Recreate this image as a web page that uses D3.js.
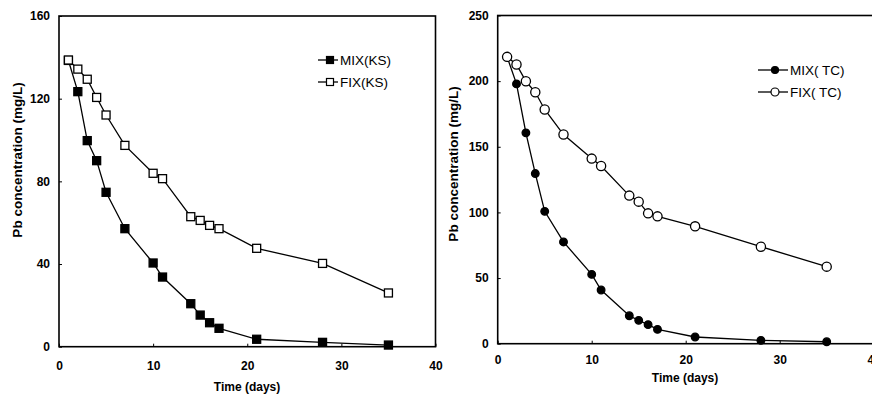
<!DOCTYPE html>
<html>
<head>
<meta charset="utf-8">
<script src="https://cdn.jsdelivr.net/npm/d3@7"></script>
<style>
  body { margin: 0; background: #fff; }
  svg text { font-family: 'Liberation Sans', Arial, sans-serif; fill: #000; }
  .tick text { font-size: 12px; font-weight: bold; }
  .title { font-size: 12px; font-weight: bold; }
  .ytitle { font-size: 13.5px; font-weight: bold; }
  .legend text { font-size: 13.5px; }
</style>
</head>
<body>
<svg width="872" height="394"></svg>
<script>
/* global d3:true */

// sampling days (shared by all series)
const days = [1, 2, 3, 4, 5, 7, 10, 11, 14, 15, 16, 17, 21, 28, 35]

// KS panel
const mixKS = [138.5, 123.4, 99.7, 90, 74.7, 57.1, 40.5, 33.7, 20.8, 15.3, 11.6, 8.9, 3.6, 2.1, 0.8]
const fixKS = [138.7, 134.3, 129.4, 120.6, 112.1, 97.4, 83.9, 81.3, 62.9, 61.1, 58.7, 57.1, 47.6, 40.3, 26]
const ticksKS = [0, 40, 80, 120, 160]

// TC panel
const mixTC = [218.5, 197.9, 160.6, 129.6, 100.8, 77.5, 52.8, 40.9, 21.3, 17.8, 14.5, 10.9, 5.1, 2.5, 1.5]
const fixTC = [218.5, 212.7, 199.9, 191.5, 178.4, 159.3, 141, 135.4, 112.8, 108.2, 99.3, 97, 89.4, 73.9, 58.7]
const ticksTC = [0, 50, 100, 150, 200, 250]

const timeTicks = [0, 10, 20, 30, 40]

const svg = d3.select('svg')

const drawPanel = (opt) => {
  const { left, top, width, height, yMax, yTicks, mix, fix, mixName, fixName, marker, legend, xLabelY } = opt
  const x = d3.scaleLinear().domain([0, 40]).range([0, width])
  const y = d3.scaleLinear().domain([0, yMax]).range([height, 0])

  const g = svg.append('g')
    .attr('transform', 'translate(' + left + ',' + top + ')')

  g.append('g')
    .attr('transform', 'translate(0,' + height + ')')
    .call(d3.axisBottom(x).tickValues(timeTicks).tickSizeInner(-3).tickSizeOuter(0).tickPadding(xLabelY))
    .call((a) => a.select('.domain').remove())

  g.append('g')
    .call(d3.axisLeft(y).tickValues(yTicks).tickSizeInner(-3).tickSizeOuter(0).tickPadding(9))
    .call((a) => a.select('.domain').remove())

  g.append('rect')
    .attr('width', width)
    .attr('height', height)
    .attr('fill', 'none')
    .attr('stroke', '#000')
    .attr('stroke-width', 1.6)

  const line = d3.line()
    .x((d, i) => x(days[i]))
    .y((d) => y(d))

  const drawMarks = (values, filled) => {
    g.append('path')
      .datum(values)
      .attr('d', line)
      .attr('fill', 'none')
      .attr('stroke', '#000')
      .attr('stroke-width', 1.3)
    const pts = g.selectAll(null)
      .data(values)
      .enter()
    if (marker === 'square') {
      pts.append('rect')
        .attr('x', (d, i) => x(days[i]) - 4)
        .attr('y', (d) => y(d) - 4)
        .attr('width', 8)
        .attr('height', 8)
        .attr('fill', filled ? '#000' : '#fff')
        .attr('stroke', '#000')
        .attr('stroke-width', 1.3)
    } else {
      pts.append('circle')
        .attr('cx', (d, i) => x(days[i]))
        .attr('cy', (d) => y(d))
        .attr('r', filled ? 3.8 : 4.6)
        .attr('fill', filled ? '#000' : '#fff')
        .attr('stroke', '#000')
        .attr('stroke-width', 1.3)
    }
  }

  drawMarks(mix, true)
  drawMarks(fix, false)

  // legend
  const lg = svg.append('g').attr('class', 'legend')
  const items = [[mixName, true], [fixName, false]]
  items.forEach((item, i) => {
    const ly = legend.y + i * 22
    lg.append('line')
      .attr('x1', legend.x).attr('x2', legend.x + legend.len)
      .attr('y1', ly).attr('y2', ly)
      .attr('stroke', '#000').attr('stroke-width', 1.3)
    const mx = legend.x + legend.len / 2 + 2
    if (marker === 'square') {
      lg.append('rect')
        .attr('x', mx - 3.5).attr('y', ly - 3.5)
        .attr('width', 7).attr('height', 7)
        .attr('fill', item[1] ? '#000' : '#fff')
        .attr('stroke', '#000').attr('stroke-width', 1.2)
    } else {
      lg.append('circle')
        .attr('cx', mx).attr('cy', ly)
        .attr('r', item[1] ? 3.5 : 4)
        .attr('fill', item[1] ? '#000' : '#fff')
        .attr('stroke', '#000').attr('stroke-width', 1.2)
    }
    lg.append('text')
      .attr('x', legend.x + legend.len + 2)
      .attr('y', ly + 5)
      .text(item[0])
  })

  // axis titles
  svg.append('text')
    .attr('class', 'ytitle')
    .attr('transform', 'translate(' + opt.yTitle.x + ',' + opt.yTitle.y + ') rotate(-90)')
    .attr('text-anchor', 'middle')
    .text('Pb concentration (mg/L)')

  svg.append('text')
    .attr('class', 'title')
    .attr('x', opt.xTitle.x)
    .attr('y', opt.xTitle.y)
    .attr('text-anchor', 'middle')
    .text('Time (days)')
}

drawPanel({
  left: 59, top: 16, width: 376.5, height: 330.7,
  yMax: 160, yTicks: ticksKS,
  mix: mixKS, fix: fixKS,
  mixName: 'MIX(KS)', fixName: 'FIX(KS)',
  marker: 'square',
  legend: { x: 318, y: 60, len: 20 },
  xLabelY: 15,
  yTitle: { x: 22, y: 160 },
  xTitle: { x: 247, y: 391 }
})

drawPanel({
  left: 497.7, top: 15.5, width: 376, height: 328.2,
  yMax: 250, yTicks: ticksTC,
  mix: mixTC, fix: fixTC,
  mixName: 'MIX( TC)', fixName: 'FIX( TC)',
  marker: 'circle',
  legend: { x: 758, y: 70, len: 30 },
  xLabelY: 12,
  yTitle: { x: 458, y: 164 },
  xTitle: { x: 685, y: 382 }
})
</script>
</body>
</html>
